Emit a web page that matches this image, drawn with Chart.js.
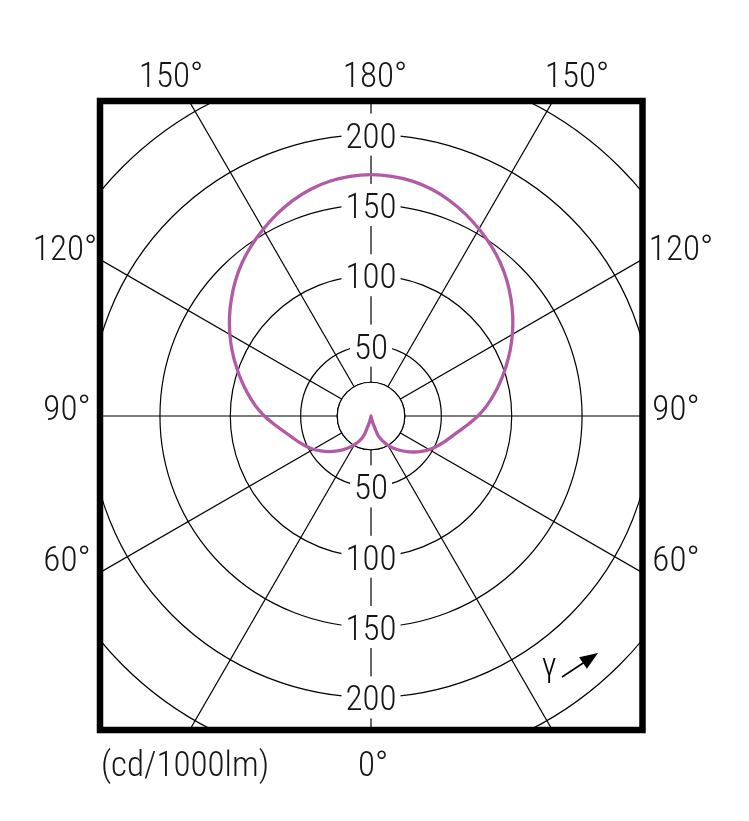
<!DOCTYPE html>
<html>
<head>
<meta charset="utf-8">
<script src="https://cdn.jsdelivr.net/npm/chart.js@4.4.1/dist/chart.umd.min.js"></script>
<style>
  html, body { margin: 0; padding: 0; background: #ffffff; }
  #wrap { width: 749px; height: 821px; position: relative; }
</style>
</head>
<body>
<div id="wrap"><canvas id="c"></canvas></div>
<script>
// ---- data (cd/1000lm) ----
const gammaAngles = [0,5,10,15,20,25,30,35,40,45,50,55,60,65,70,75,80,85,90,
                     95,100,105,110,115,120,125,130,135,140,145,150,155,160,165,170,175,180];
// right half of the diagram
const rightPlane = [0,0.5,1.5,5,15,19.5,24,28,31.8,35.8,39.8,43.8,47.8,51.3,54.8,58.5,63.2,69.2,76,
                    82.5,88.8,95.3,102,109,116,123,129.8,136.5,142.7,148.3,153.5,158.5,163,166.8,169.5,171,171.5];
// left half of the diagram
const leftPlane  = [0,0.5,1.5,5,14.5,19.5,23.5,27.6,31.4,35.3,39.3,43.3,47.3,50.9,54.5,58.2,62.9,68.9,75.8,
                    82.3,88.6,95.1,101.8,108.8,115.8,122.8,129.5,136.2,142.4,148,153.2,158.3,162.9,166.7,169.4,171,171.5];
const gridValues = [0,24,50,100,150,200,250,300];
const tickLabelValues = [50,100,150,200];
const innerCircleValue = 24;
const outerLabels = [
  {text:'150°', x:171, y:74}, {text:'180°', x:375, y:74}, {text:'150°', x:577, y:74},
  {text:'120°', x:65, y:247}, {text:'120°', x:681, y:247},
  {text:'90°', x:67, y:407}, {text:'90°', x:676, y:407},
  {text:'60°', x:67, y:558}, {text:'60°', x:676, y:558},
  {text:'0°', x:373, y:763}, {text:'(cd/1000lm)', x:185, y:763}
];

// ---- layout constants ----
const CX = 371, CY = 416, PX_PER_UNIT = 1.407;
const BOX = {l: 100, t: 101, r: 642.5, b: 730};
const FONT = '300 35px "Roboto Condensed", "Liberation Sans Narrow", "DejaVu Sans Condensed", Roboto, sans-serif';
const TEXT = '#151515';
const CURVE = '#b35aa5';

// build the radar table: index 0 at top (gamma 180), clockwise
const labels = [], values = [];
for (let i = rightPlane.length - 1; i >= 0; i--) { labels.push(gammaAngles[i]); values.push(rightPlane[i]); }
for (let i = 1; i < leftPlane.length - 1; i++) { labels.push(gammaAngles[i]); values.push(leftPlane[i]); }

const overlay = {
  id: 'overlay',
  beforeDraw(chart) {
    const ctx = chart.ctx;
    ctx.save();
    ctx.fillStyle = '#fff';
    ctx.fillRect(0, 0, chart.width, chart.height);
    ctx.beginPath();
    ctx.rect(BOX.l, BOX.t, BOX.r - BOX.l, BOX.b - BOX.t);
    ctx.clip();
  },
  beforeDatasetsDraw(chart) {
    const ctx = chart.ctx, s = chart.scales.r;
    const r0 = s.getDistanceFromCenterForValue(innerCircleValue);
    ctx.save();
    ctx.beginPath();
    ctx.arc(s.xCenter, s.yCenter, r0, 0, Math.PI * 2);
    ctx.fillStyle = '#fff';
    ctx.fill();
    ctx.lineWidth = 1.2;
    ctx.strokeStyle = '#000';
    ctx.stroke();
    ctx.font = FONT;
    ctx.textAlign = 'center';
    ctx.textBaseline = 'alphabetic';
    tickLabelValues.forEach(v => {
      const d = s.getDistanceFromCenterForValue(v);
      [-1, 1].forEach(sign => {
        const y = s.yCenter + sign * d;
        const t = String(v);
        const w = ctx.measureText(t).width;
        ctx.fillStyle = '#fff';
        ctx.fillRect(s.xCenter - w / 2 - 4, y - 21, w + 8, 42);
        ctx.fillStyle = TEXT;
        ctx.fillText(t, s.xCenter, y + 13);
      });
    });
    ctx.restore();
  },
  afterDraw(chart) {
    const ctx = chart.ctx;
    ctx.restore();
    ctx.save();
    ctx.lineWidth = 6.5;
    ctx.strokeStyle = '#000';
    ctx.strokeRect(BOX.l, BOX.t, BOX.r - BOX.l, BOX.b - BOX.t);
    ctx.font = FONT;
    ctx.fillStyle = TEXT;
    ctx.textAlign = 'center';
    ctx.textBaseline = 'alphabetic';
    outerLabels.forEach(o => ctx.fillText(o.text, o.x, o.y + 13));
    // gamma arrow
    ctx.font = '300 34px "Roboto Condensed", "Liberation Sans Narrow", Roboto, sans-serif';
    ctx.fillStyle = '#000';
    ctx.fillText('γ', 549, 676);
    ctx.lineWidth = 1.5;
    ctx.strokeStyle = '#000';
    ctx.beginPath();
    ctx.moveTo(562, 677);
    ctx.lineTo(584, 662.5);
    ctx.stroke();
    ctx.beginPath();
    ctx.moveTo(598, 653);
    ctx.lineTo(586.9, 668.8);
    ctx.lineTo(579.1, 657.2);
    ctx.closePath();
    ctx.fill();
    ctx.restore();
  }
};

new Chart(document.getElementById('c'), {
  type: 'radar',
  data: {
    labels: labels,
    datasets: [{
      data: values,
      borderColor: CURVE,
      borderWidth: 3.3,
      pointRadius: 0,
      pointHoverRadius: 0,
      fill: false,
      tension: 0.25
    }]
  },
  options: {
    responsive: true,
    maintainAspectRatio: false,
    animation: false,
    events: [],
    layout: { padding: 0 },
    plugins: { legend: { display: false }, tooltip: { enabled: false } },
    scales: {
      r: {
        min: 0,
        max: 300,
        startAngle: 0,
        afterBuildTicks: s => { s.ticks = gridValues.map(v => ({ value: v })); },
        afterFit: s => { s.xCenter = CX; s.yCenter = CY; s.drawingArea = PX_PER_UNIT * 300; },
        ticks: { display: false },
        pointLabels: { display: false },
        grid: { circular: true, color: '#000', lineWidth: 1.2 },
        angleLines: {
          color: '#000',
          lineWidth: ctx => (ctx.index % 6 === 0 ? 1.2 : 0)
        }
      }
    }
  },
  plugins: [overlay]
});
</script>
</body>
</html>
